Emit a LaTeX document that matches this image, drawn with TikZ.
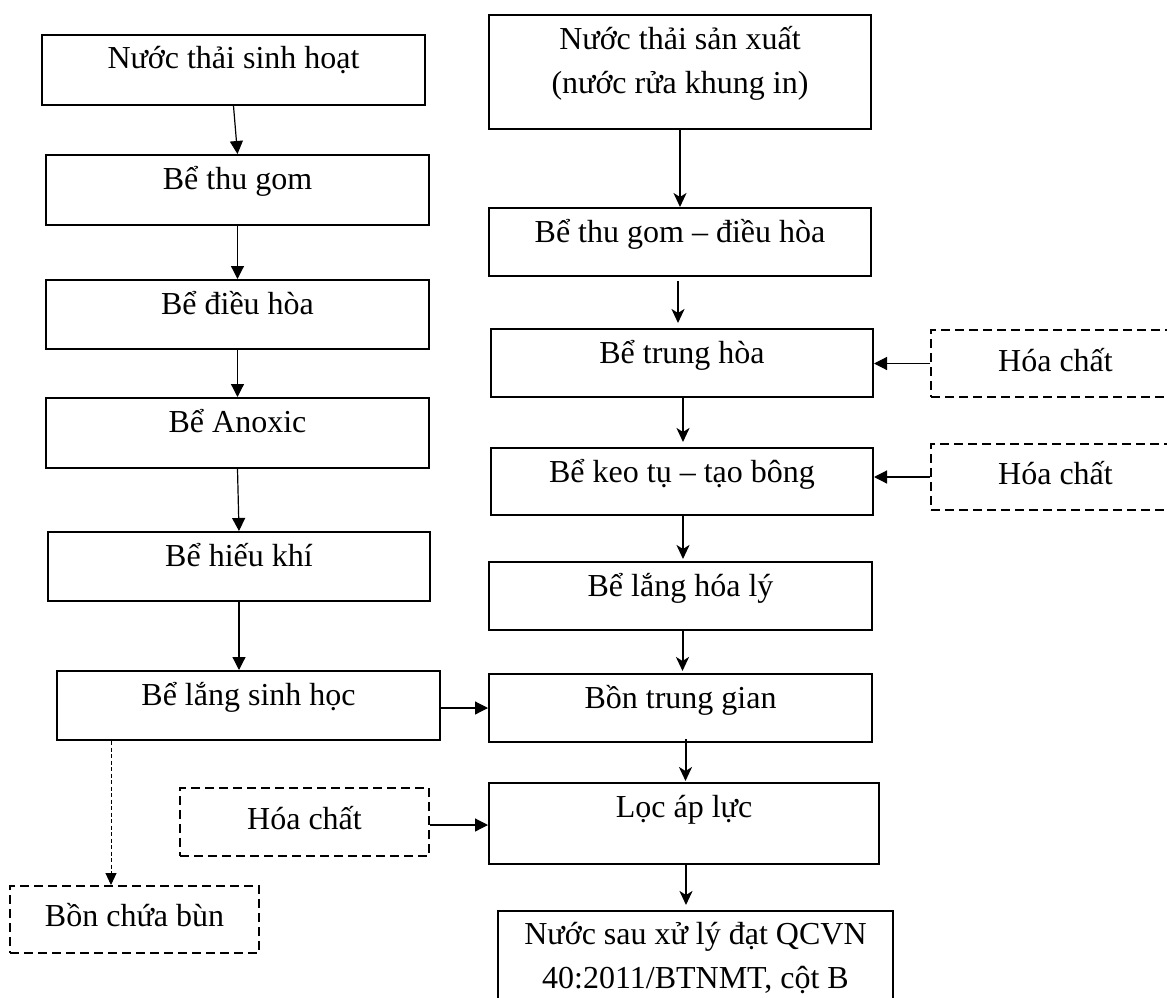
\documentclass[tikz,border=0pt]{standalone}
\usepackage{fontspec}
\setmainfont{Liberation Serif}
\usetikzlibrary{arrows.meta,calc}
\begin{document}
\begin{tikzpicture}[x=1pt,y=-1pt,
  box/.style={draw, line width=2pt, rectangle, inner sep=0pt, anchor=north west,
    text height=34pt, font=\fontsize{32}{44}\selectfont},
  dbox/.style={box, dash pattern=on 9pt off 5pt},
  thinarrow/.style={line width=1.2pt, -{Triangle[length=13pt,width=13pt]}},
  thickarrow/.style={line width=2pt, -{Stealth[length=14pt,width=13pt,inset=4pt]}},
  mudarrow/.style={line width=1pt, dash pattern=on 4pt off 2.5pt, -{Triangle[length=12pt,width=11pt]}}
]
\useasboundingbox (0,0) rectangle (1167,998);
\clip (0,0) rectangle (1167,998);

% left column
\node[box, minimum width=383pt, text depth=36pt] (a1) at (41,34) {Nước thải sinh hoạt};
\node[box, minimum width=383pt, text depth=36pt] (a2) at (45,154) {Bể thu gom};
\node[box, minimum width=383pt, text depth=35pt] (a3) at (45,279) {Bể điều hòa};
\node[box, minimum width=383pt, text depth=36pt] (a4) at (45,397) {Bể Anoxic};
\node[box, minimum width=382pt, text depth=35pt] (a5) at (47,531) {Bể hiếu khí};
\node[box, minimum width=383pt, text depth=35pt] (a6) at (56,670) {Bể lắng sinh học};
\node[dbox, minimum width=249pt, text height=40pt, text depth=27pt] (mud) at (9,885) {Bồn chứa bùn};
\node[dbox, minimum width=249pt, text height=41pt, text depth=27pt] (hc3) at (179,787) {Hóa chất};

% right column
\node[box, minimum width=382pt, text depth=80pt] (b1) at (488,14)
  {\begin{tabular}[t]{@{}c@{}}Nước thải sản xuất\\(nước rửa khung in)\end{tabular}};
\node[box, minimum width=382pt, text depth=34pt] (b2) at (488,207) {Bể thu gom – điều hòa};
\node[box, minimum width=382pt, text depth=34pt] (b3) at (490,328) {Bể trung hòa};
\node[box, minimum width=382pt, text depth=33pt] (b4) at (490,447) {Bể keo tụ – tạo bông};
\node[box, minimum width=383pt, text depth=34pt] (b5) at (488,561) {Bể lắng hóa lý};
\node[box, minimum width=383pt, text depth=34pt] (b6) at (488,673) {Bồn trung gian};
\node[box, minimum width=390pt, text depth=47pt] (b7) at (488,782) {Lọc áp lực};
\node[box, minimum width=395pt, text height=33pt, text depth=87pt] (b8) at (497,910)
  {\begin{tabular}[t]{@{}c@{}}Nước sau xử lý đạt QCVN\\40:2011/BTNMT, cột B\end{tabular}};
\node[dbox, minimum width=249pt, text height=41pt, text depth=26pt] (hc1) at (930,329) {Hóa chất};
\node[dbox, minimum width=249pt, text height=40pt, text depth=26pt] (hc2) at (930,443) {Hóa chất};

% left arrows
\draw[thinarrow] (a1.south) -- (a2.north);
\draw[thinarrow] (a2.south) -- (a3.north);
\draw[thinarrow] (a3.south) -- (a4.north);
\draw[thinarrow] (a4.south) -- (a5.north);
\draw[thinarrow] (a5.south) -- (a5.south |- a6.north);
\draw[thinarrow] (a6.east |- b6.west) -- (b6.west);
\draw[thinarrow] ($(hc3.east)+(0,3)$) -- ($(hc3.east -| b7.west)+(0,3)$);
\draw[mudarrow] ($(a6.south west)+(55,0)$) -- ($(mud.north west)+(102,0)$);

% right arrows
\draw[thickarrow] (b1.south) -- (b2.north);
\draw[thickarrow, shorten <=4pt, shorten >=5pt] ($(b2.south)+(-2,0)$) -- ($(b2.south |- b3.north)+(-2,0)$);
\draw[thickarrow, shorten >=5pt] ($(b3.south)+(1,0)$) -- ($(b3.south |- b4.north)+(1,0)$);
\draw[thickarrow, shorten >=2pt] ($(b4.south)+(1,0)$) -- ($(b4.south |- b5.north)+(1,0)$);
\draw[thickarrow, shorten >=2pt] ($(b5.south)+(2,0)$) -- ($(b5.south |- b6.north)+(2,0)$);
\draw[thickarrow, shorten <=-4pt, shorten >=1pt] ($(b6.south)+(5,0)$) -- ($(b6.south |- b7.north)+(5,0)$);
\draw[thickarrow, shorten >=5pt] ($(b7.south)+(2,0)$) -- ($(b7.south |- b8.north)+(2,0)$);
\draw[thinarrow] (hc1.west) -- (hc1.west -| b3.east);
\draw[thinarrow] (hc2.west) -- (hc2.west -| b4.east);
\end{tikzpicture}
\end{document}
